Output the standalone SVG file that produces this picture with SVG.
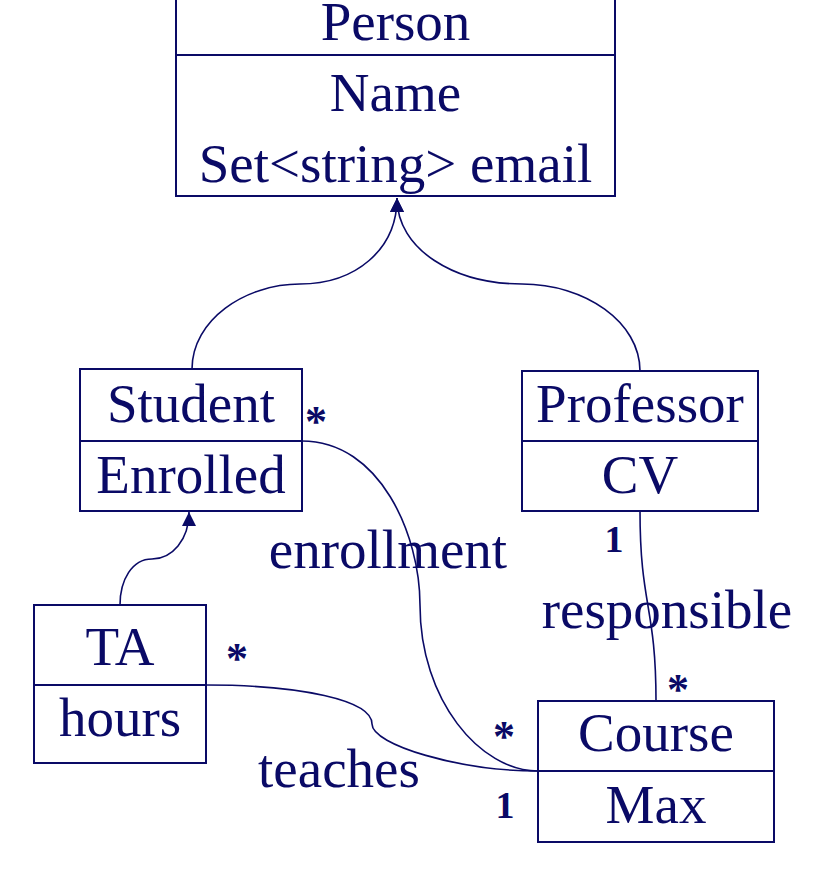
<svg xmlns="http://www.w3.org/2000/svg" width="814" height="892" viewBox="0 0 814 892">
<style>
.box{fill:#fff;stroke:#0a0a66;stroke-width:2}
.div{stroke:#0a0a66;stroke-width:2}
.t{font-family:"Liberation Serif","Times New Roman",serif;font-size:55px;fill:#0a0a66;text-anchor:middle}
.m{font-family:"Liberation Serif","Times New Roman",serif;font-size:38px;font-weight:bold;fill:#0a0a66;text-anchor:middle}
.s{font-family:"Liberation Serif","Times New Roman",serif;font-size:44px;font-weight:bold;fill:#0a0a66;text-anchor:middle}
.c{fill:none;stroke:#0a0a66;stroke-width:1.6}
</style>
<defs>
<marker id="tri" markerWidth="14" markerHeight="14" refX="14" refY="7" orient="auto" markerUnits="userSpaceOnUse">
<path d="M0,0 L14,7 L0,14 Z" fill="#0a0a66"/>
</marker>
</defs>
<rect width="814" height="892" fill="#fff"/>
<g id="connectors">
<path class="c" d="M192,369 C192,320 245,284 300,284 C355,284 397,250 397,198" marker-end="url(#tri)"/>
<path class="c" d="M640,371 C640,322 585,284 522,284 C455,284 397,250 397,198" marker-end="url(#tri)"/>
<path class="c" d="M120,605 C120,580 132,559 152,559 C172,559 189,540 189,512" marker-end="url(#tri)"/>
<path class="c" d="M302,441 C380,441 420,535 420,605 C420,700 480,771 538,771"/>
<path class="c" d="M206,685 C300,685 372,700 372,724 C372,745 460,771 538,771"/>
<path class="c" d="M640,511 C640,606 656,606 656,701"/>
<text class="s" x="316" y="436">*</text>
<text class="t" x="388" y="568">enrollment</text>
<text class="s" x="504" y="751">*</text>
<text class="m" x="614" y="552">1</text>
<text class="t" x="667" y="628">responsible</text>
<text class="s" x="678" y="704">*</text>
<text class="s" x="237" y="673">*</text>
<text class="t" x="339" y="787">teaches</text>
<text class="m" x="505" y="818">1</text>
</g>
<g id="person">
<rect class="box" x="176" y="-2" width="439" height="198"/>
<line class="div" x1="176" y1="55" x2="615" y2="55"/>
<text class="t" x="395.5" y="40">Person</text>
<text class="t" x="395.5" y="111">Name</text>
<text class="t" x="395.5" y="182">Set&lt;string&gt; email</text>
</g>
<g id="student">
<rect class="box" x="80" y="369" width="222" height="142"/>
<line class="div" x1="80" y1="441" x2="302" y2="441"/>
<text class="t" x="191" y="422">Student</text>
<text class="t" x="191" y="493">Enrolled</text>
</g>
<g id="professor">
<rect class="box" x="522" y="371" width="236" height="140"/>
<line class="div" x1="522" y1="441" x2="758" y2="441"/>
<text class="t" x="640" y="422">Professor</text>
<text class="t" x="640" y="493">CV</text>
</g>
<g id="ta">
<rect class="box" x="34" y="605" width="172" height="158"/>
<line class="div" x1="34" y1="685" x2="206" y2="685"/>
<text class="t" x="120" y="665">TA</text>
<text class="t" x="120" y="736">hours</text>
</g>
<g id="course">
<rect class="box" x="538" y="701" width="236" height="141"/>
<line class="div" x1="538" y1="771" x2="774" y2="771"/>
<text class="t" x="656" y="751">Course</text>
<text class="t" x="656" y="823">Max</text>
</g>
</svg>
